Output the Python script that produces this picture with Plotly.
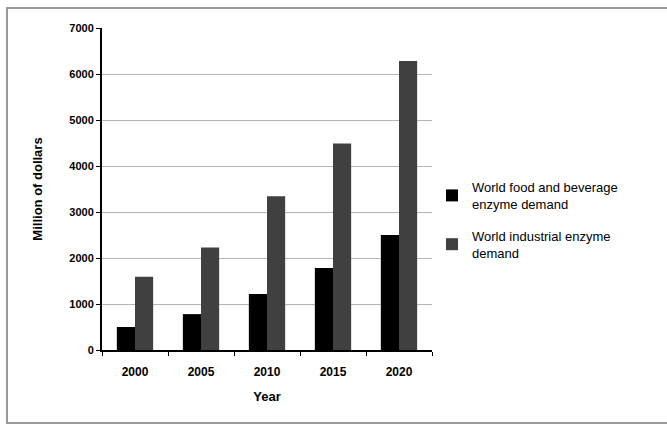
import plotly.graph_objects as go

years = ["2000", "2005", "2010", "2015", "2020"]
food_beverage = [500, 780, 1220, 1780, 2500]
industrial = [1590, 2230, 3340, 4490, 6280]
series_names = ["World food and beverage<br>enzyme demand",
                "World industrial enzyme<br>demand"]

W, H = 667, 425
L, R, T, B = 102, 235, 28, 75

fig = go.Figure()
fig.add_trace(go.Bar(x=years, y=food_beverage, name=series_names[0],
                     legendgroup="food",
                     marker=dict(color="#000000", line=dict(width=0))))
fig.add_trace(go.Bar(x=years, y=industrial, name=series_names[1],
                     legendgroup="industrial",
                     marker=dict(color="#404040", line=dict(width=0))))

pw, ph = W - L - R, H - T - B


def px_x(x):
    return (x - L) / pw


def px_y(y):
    return (H - B - y) / ph


fig.update_layout(
    width=W, height=H,
    margin=dict(l=L, r=R, t=T, b=B),
    paper_bgcolor="white", plot_bgcolor="white",
    barmode="group", bargap=0.45, bargroupgap=0,
    font=dict(family="Liberation Sans, Arial, sans-serif", color="#000000"),
    showlegend=True,
    legend=dict(x=px_x(432), y=px_y(172), xanchor="left", yanchor="top",
                font=dict(size=13, color="#000000"),
                tracegroupgap=12, itemwidth=30, bgcolor="rgba(0,0,0,0)"),
    shapes=[dict(type="rect", xref="paper", yref="paper",
                 x0=px_x(7), x1=px_x(700), y0=px_y(423), y1=px_y(8),
                 line=dict(color="#9a9a9a", width=2), layer="below")],
)

fig.update_xaxes(
    type="category", showline=True, linecolor="#000000", linewidth=2,
    ticks="outside", tickson="boundaries", ticklen=4, tickcolor="#000000",
    ticklabelstandoff=10,
    tickfont=dict(size=12, weight="bold"),
    title=dict(text="Year", font=dict(size=13, weight="bold"), standoff=13),
    showgrid=False,
)
fig.update_yaxes(
    range=[0, 7000], dtick=1000, showline=True, linecolor="#000000", linewidth=2,
    ticks="outside", ticklen=4, tickcolor="#000000",
    tickfont=dict(size=11, weight="bold"),
    showgrid=True, gridcolor="#b4b4b4", gridwidth=1, zeroline=False,
    title=dict(text="Million of dollars", font=dict(size=13, weight="bold"), standoff=24),
)

fig.write_html("out.html")
